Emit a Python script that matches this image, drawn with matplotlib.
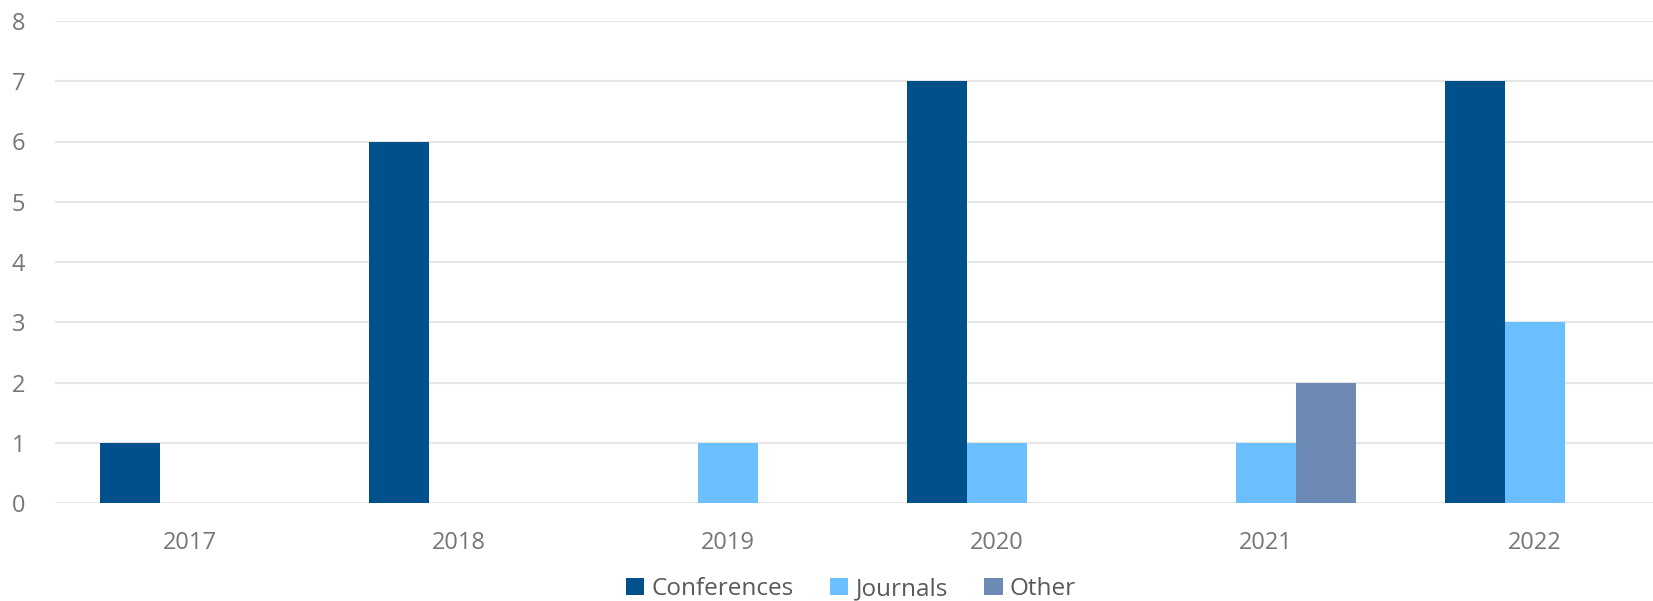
# grouped bar chart of publications per year
import numpy as np
import matplotlib.pyplot as plt

plt.rcParams['font.family'] = ['Open Sans', 'DejaVu Sans']

# data
years = ['2017', '2018', '2019', '2020', '2021', '2022']
conferences = [1, 6, 0, 7, 0, 7]
journals = [0, 0, 1, 1, 1, 3]
other = [0, 0, 0, 0, 2, 0]

series_names = ['Conferences', 'Journals', 'Other']
colors = ['#00508C', '#6BBFFF', '#6D8AB5']

W, H = 1653, 601
fig = plt.figure(figsize=(W / 100, H / 100), dpi=100)
ax = fig.add_axes([55 / W, (H - 503) / H, (W - 55) / W, 482 / H])

x = np.arange(len(years))
bw = 0.223
for i, (vals, name, c) in enumerate(zip([conferences, journals, other], series_names, colors)):
    ax.bar(x + (i - 1) * bw, vals, width=bw, color=c, label=name, zorder=3)

ax.set_ylim(0, 8)
ax.set_xlim(-0.5, (W - 190) / 269)
ax.set_yticks(range(0, 9))
ax.set_xticks(x)
ax.set_xticklabels(years)
ax.grid(axis='y', color='#E6E6E6', linewidth=1.5, zorder=0)
ax.set_axisbelow(True)
for s in ax.spines.values():
    s.set_visible(False)
ax.tick_params(axis='both', length=0, labelsize=17, labelcolor='#767676')
ax.tick_params(axis='x', pad=20)
ax.tick_params(axis='y', pad=31)
for lab in ax.get_yticklabels():
    lab.set_horizontalalignment('left')

# legend at the bottom
fig.legend(loc='center', bbox_to_anchor=(851 / W, 1 - 589 / H), ncol=3, frameon=False,
           fontsize=17.5, labelcolor='#595959', handlelength=0.75, handleheight=0.75,
           handletextpad=0.3, columnspacing=1.5, borderpad=0.1)

fig.savefig('out.png', dpi=100)
